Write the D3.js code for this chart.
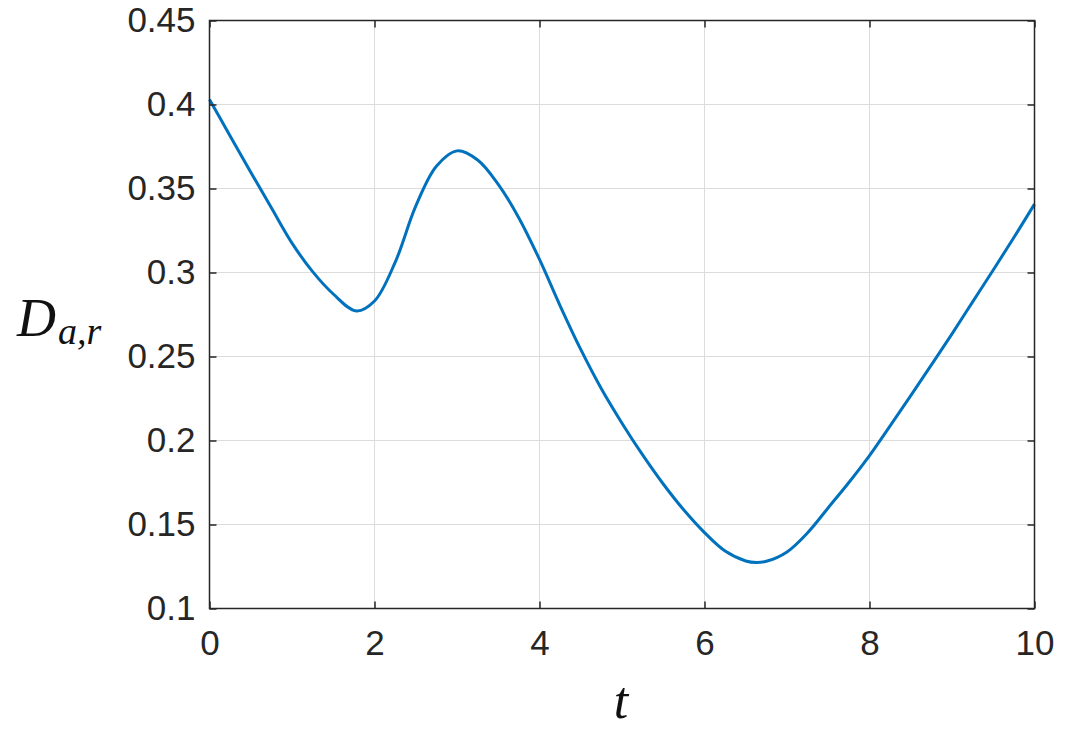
<!DOCTYPE html>
<html>
<head>
<meta charset="utf-8">
<script src="https://cdn.jsdelivr.net/npm/d3@7"></script>
<style>
  html, body { margin: 0; padding: 0; background: #fff; }
  svg { display: block; }
</style>
</head>
<body>
<svg id="chart" width="1073" height="730"></svg>
<script>
// ---- data ----
const tValues = [0, 0.25, 0.5, 0.75, 1.0, 1.25, 1.5, 1.78, 2.0, 2.25, 2.5, 2.75, 3.0, 3.25, 3.5, 3.75, 4.0, 4.25, 4.5, 4.75, 5.0, 5.25, 5.5, 5.75, 6.0, 6.25, 6.5, 6.63, 6.75, 7.0, 7.25, 7.5, 7.75, 8.0, 8.25, 8.5, 8.75, 9.0, 9.25, 9.5, 9.75, 10];
const dValues = [0.403, 0.3813, 0.3597, 0.3385, 0.3175, 0.3005, 0.2872, 0.2771, 0.2830, 0.3060, 0.3395, 0.3632, 0.3724, 0.3670, 0.3525, 0.3325, 0.3078, 0.2802, 0.2542, 0.2308, 0.2103, 0.1914, 0.1741, 0.1586, 0.1452, 0.1342, 0.1283, 0.1274, 0.1281, 0.1337, 0.1451, 0.1600, 0.1750, 0.1910, 0.2087, 0.2267, 0.2450, 0.2635, 0.2825, 0.3015, 0.3208, 0.3407];
const xTicks = [0, 2, 4, 6, 8, 10];
const yTicks = [0.1, 0.15, 0.2, 0.25, 0.3, 0.35, 0.4, 0.45];
const xTickLabels = ["0", "2", "4", "6", "8", "10"];
const yTickLabels = ["0.1", "0.15", "0.2", "0.25", "0.3", "0.35", "0.4", "0.45"];

const svg = d3.select("#chart");
const L = 209.5, R = 1034.5, T = 20.5, B = 608.5;
const x = d3.scaleLinear().domain([0, 10]).range([L, R]);
const y = d3.scaleLinear().domain([0.1, 0.45]).range([B, T]);
const axisColor = "#262626";
const font = "'Liberation Sans', Arial, Helvetica, sans-serif";

// grid
const g = svg.append("g");
g.selectAll(".gx").data(xTicks).enter().append("line")
  .attr("x1", d => x(d)).attr("x2", d => x(d)).attr("y1", T).attr("y2", B)
  .attr("stroke", "#dcdcdc").attr("stroke-width", 1);
g.selectAll(".gy").data(yTicks).enter().append("line")
  .attr("x1", L).attr("x2", R).attr("y1", d => y(d)).attr("y2", d => y(d))
  .attr("stroke", "#dcdcdc").attr("stroke-width", 1);

// line
const pts = tValues.map((t, i) => [t, dValues[i]]);
svg.append("path").datum(pts)
  .attr("d", d3.line().x(d => x(d[0])).y(d => y(d[1])).curve(d3.curveCatmullRom.alpha(0.5)))
  .attr("fill", "none").attr("stroke", "#0072BD").attr("stroke-width", 3)
  .attr("stroke-linejoin", "round");

// axes (ticks inward on all sides)
const tk = 7;
const axB = d3.axisBottom(x).tickValues(xTicks).tickSize(-tk).tickFormat((d, i) => xTickLabels[i]).tickPadding(22);
const axT = d3.axisTop(x).tickValues(xTicks).tickSize(-tk).tickFormat("");
const axL = d3.axisLeft(y).tickValues(yTicks).tickSize(-tk).tickFormat((d, i) => yTickLabels[i]).tickPadding(14);
const axR = d3.axisRight(y).tickValues(yTicks).tickSize(-tk).tickFormat("");

function style(sel) {
  sel.select(".domain").attr("stroke", axisColor).attr("stroke-width", 1.5);
  sel.selectAll(".tick line").attr("stroke", axisColor).attr("stroke-width", 1.5);
  sel.selectAll(".tick text").attr("fill", axisColor).style("font-family", font).style("font-size", "35px");
}
svg.append("g").attr("transform", `translate(0,${B})`).call(axB).call(style);
svg.append("g").attr("transform", `translate(0,${T})`).call(axT).call(style);
svg.append("g").attr("transform", `translate(${L},0)`).call(axL).call(style);
svg.append("g").attr("transform", `translate(${R},0)`).call(axR).call(style);
svg.selectAll(".domain").attr("d", null);
svg.append("rect").attr("x", L).attr("y", T).attr("width", R - L).attr("height", B - T)
  .attr("fill", "none").attr("stroke", axisColor).attr("stroke-width", 1.5);

// axis labels
const serif = "'Liberation Serif', 'Times New Roman', serif";
const yl = svg.append("text").attr("x", 17).attr("y", 336)
  .style("font-family", serif).style("font-style", "italic")
  .style("font-size", "54px").attr("fill", "#111");
yl.append("tspan").text("D");
yl.append("tspan").attr("dx", 2).attr("dy", 8).style("font-size", "38px").text("a,r");

svg.append("text").attr("x", 621).attr("y", 718).attr("text-anchor", "middle")
  .style("font-family", serif).style("font-style", "italic")
  .style("font-size", "52px").attr("fill", "#111").text("t");
</script>
</body>
</html>
